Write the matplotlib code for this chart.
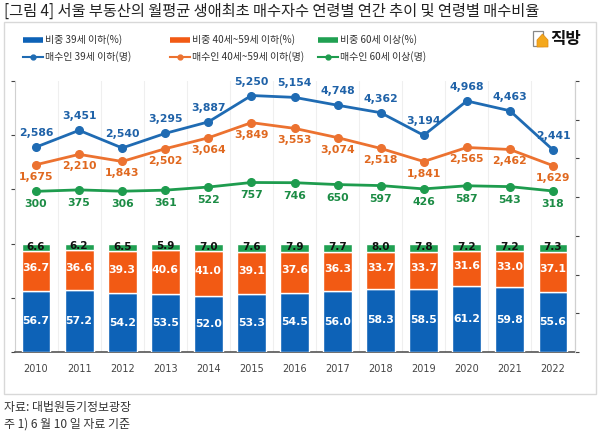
import numpy as np
import matplotlib
matplotlib.use("Agg")
import matplotlib.pyplot as plt
from matplotlib.patches import Rectangle, Polygon
from matplotlib.lines import Line2D

plt.rcParams['font.family'] = ['Noto Sans CJK KR', 'DejaVu Sans']

years = ["2010", "2011", "2012", "2013", "2014", "2015", "2016",
         "2017", "2018", "2019", "2020", "2021", "2022"]
share_u39 = [56.7, 57.2, 54.2, 53.5, 52.0, 53.3, 54.5, 56.0, 58.3, 58.5, 61.2, 59.8, 55.6]
share_40_59 = [36.7, 36.6, 39.3, 40.6, 41.0, 39.1, 37.6, 36.3, 33.7, 33.7, 31.6, 33.0, 37.1]
share_60p = [6.6, 6.2, 6.5, 5.9, 7.0, 7.6, 7.9, 7.7, 8.0, 7.8, 7.2, 7.2, 7.3]
buyers_u39 = [2586, 3451, 2540, 3295, 3887, 5250, 5154, 4748, 4362, 3194, 4968, 4463, 2441]
buyers_40_59 = [1675, 2210, 1843, 2502, 3064, 3849, 3553, 3074, 2518, 1841, 2565, 2462, 1629]
buyers_60p = [300, 375, 306, 361, 522, 757, 746, 650, 597, 426, 587, 543, 318]

legend_labels = ["비중 39세 이하(%)", "비중 40세~59세 이하(%)", "비중 60세 이상(%)",
                 "매수인 39세 이하(명)", "매수인 40세~59세 이하(명)", "매수인 60세 이상(명)"]
title = "[그림 4] 서울 부동산의 월평균 생애최초 매수자수 연령별 연간 추이 및 연령별 매수비율"
source = "자료: 대법원등기정보광장"
note = "주 1) 6 월 10 일 자료 기준"

bar_blue, bar_orange, bar_green = "#0D62B7", "#F25A14", "#20A052"
line_blue, line_orange, line_green = "#1F6BB3", "#EC7230", "#1E9C4E"
txt_blue, txt_orange, txt_green = "#1F62A8", "#E0681F", "#1C8C45"

W, H = 600, 432
fig = plt.figure(figsize=(6, 4.32), dpi=100)
fx = lambda px: px / W
fy = lambda py: 1 - py / H

ax = fig.add_axes([fx(14.5), fy(352), fx(574.5) - fx(14.5), fy(81) - fy(352)])
x = np.arange(len(years))
bw = 0.67

ax.bar(x, share_u39, bw, color=bar_blue, edgecolor="white", linewidth=1, zorder=3)
bot2 = np.array(share_u39)
ax.bar(x, share_40_59, bw, bottom=bot2, color=bar_orange, edgecolor="white", linewidth=1, zorder=3)
bot3 = bot2 + np.array(share_40_59)
ax.bar(x, share_60p, bw, bottom=bot3, color=bar_green, edgecolor="white", linewidth=1, zorder=3)

for i in range(len(years)):
    ax.text(x[i], share_u39[i] / 2, f"{share_u39[i]:.1f}", ha="center", va="center",
            color="white", fontsize=7.8, fontweight="bold", family="DejaVu Sans", zorder=5)
    ax.text(x[i], bot2[i] + share_40_59[i] / 2 + 2, f"{share_40_59[i]:.1f}", ha="center", va="center",
            color="white", fontsize=7.8, fontweight="bold", family="DejaVu Sans", zorder=5)
    ax.text(x[i], bot3[i] + share_60p[i] / 2 + 0.5, f"{share_60p[i]:.1f}", ha="center", va="center",
            color="#111111", fontsize=7.5, fontweight="bold", family="DejaVu Sans", zorder=5)

ax.set_xlim(-0.5, len(years) - 0.5)
ax.set_ylim(0, 250)
ax.set_yticks(np.arange(0, 251, 50))
ax.set_yticklabels([])
ax.set_xticks(x)
ax.set_xticklabels(years, fontsize=7, color="#444444", family="DejaVu Sans")
ax.tick_params(axis="x", length=0, pad=9)
ax.tick_params(axis="y", length=3, color="#444444", width=0.8)
for k in range(len(years) + 1):
    ax.axvline(k - 0.5, color="#EFEFEF", lw=0.8, zorder=0)
ax.spines["top"].set_visible(False)
ax.spines["left"].set_color("#D0D0D0")
ax.spines["right"].set_color("#D0D0D0")
ax.spines["bottom"].set_color("#555555")
ax.spines["bottom"].set_linewidth(1.2)

ax2 = ax.twinx()
ax2.set_ylim(-8000, 6000)
ax2.set_yticks(np.arange(-8000, 6001, 2000))
ax2.set_yticklabels([])
ax2.tick_params(axis="y", length=3, color="#444444", width=0.8)
for s in ["top", "bottom", "left"]:
    ax2.spines[s].set_visible(False)
ax2.spines["right"].set_color("#D0D0D0")

for vals, lc, tc, off in [(buyers_u39, line_blue, txt_blue, 14),
                          (buyers_40_59, line_orange, txt_orange, -12),
                          (buyers_60p, line_green, txt_green, -13)]:
    ax2.plot(x, vals, color=lc, lw=2, marker="o", ms=5.5, zorder=4)
    for i, v in enumerate(vals):
        ax2.annotate(f"{v:,}", (x[i], v), xytext=(0, off), textcoords="offset pixels",
                     ha="center", va="center", color=tc, fontsize=7.8, fontweight="bold",
                     family="DejaVu Sans")

# frame
fig.patches.append(Rectangle((fx(4), fy(394)), fx(596) - fx(4), fy(22) - fy(394),
                             transform=fig.transFigure, fill=False, edgecolor="#D8D8D8", lw=1))

# title and notes
fig.text(fx(4), fy(11), title, fontsize=11, color="#222222", va="center", ha="left")
fig.text(fx(4), fy(407), source, fontsize=8.6, color="#333333", va="center", ha="left")
fig.text(fx(4), fy(424), note, fontsize=8.6, color="#333333", va="center", ha="left")

# legend
cols = [23, 170, 318]
rows = [40, 57]
bar_cols = [bar_blue, bar_orange, bar_green]
line_cols = [line_blue, line_orange, line_green]
for j in range(3):
    x0, x1 = cols[j], cols[j] + 20
    fig.lines.append(Line2D([fx(x0), fx(x1)], [fy(rows[0])] * 2, transform=fig.transFigure,
                            color=bar_cols[j], lw=4, solid_capstyle="butt"))
    fig.text(fx(x1 + 2), fy(rows[0]), legend_labels[j], fontsize=7.2, color="#333333", va="center")
    fig.lines.append(Line2D([fx(x0), fx(x1)], [fy(rows[1])] * 2, transform=fig.transFigure,
                            color=line_cols[j], lw=1.5))
    fig.lines.append(Line2D([fx((x0 + x1) / 2)], [fy(rows[1])], transform=fig.transFigure,
                            color=line_cols[j], marker="o", ms=3.5, lw=0))
    fig.text(fx(x1 + 2), fy(rows[1]), legend_labels[j + 3], fontsize=7.2, color="#333333", va="center")

# logo
fig.patches.append(Rectangle((fx(533), fy(46)), fx(10), fy(31) - fy(46), transform=fig.transFigure,
                             fill=True, facecolor="white", edgecolor="#888888", lw=0.9))
fig.patches.append(Polygon([[fx(537), fy(47)], [fx(537), fy(40)], [fx(542.5), fy(34)],
                            [fx(548), fy(40)], [fx(548), fy(47)]], closed=True,
                           transform=fig.transFigure, facecolor="#F4A81D", edgecolor="#E08A10", lw=0.5))
fig.text(fx(550), fy(39), "직방", fontsize=12, fontweight="bold", color="#111111", va="center", ha="left")

fig.savefig("out.png", dpi=100, facecolor="white")
